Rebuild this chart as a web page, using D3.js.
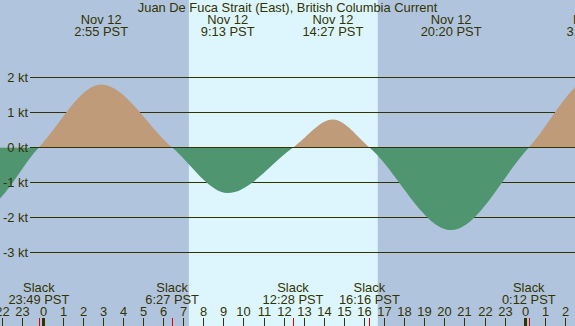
<!DOCTYPE html>
<html>
<head>
<meta charset="utf-8">
<script src="https://cdn.jsdelivr.net/npm/d3@7"></script>
<style>
  body { margin: 0; background: #fff; }
  text { font-family: "Liberation Sans", Arial, sans-serif; font-size: 12.9px; fill: #333300; }
</style>
</head>
<body>
<svg id="mainChart" width="575" height="326"></svg>
<script>
// current events (PST), speed in knots; slack = 0
const eventTimes = ['11-11 17:40', '11-11 21:00', '11-11 23:49', '11-12 02:55', '11-12 06:27', '11-12 09:13',
  '11-12 12:28', '11-12 14:27', '11-12 16:16', '11-12 20:20', '11-13 00:12', '11-13 03:25', '11-13 07:00'];
const eventSpeeds = [0, -1.75, 0, 1.8, 0, -1.3, 0, 0.8, 0, -2.36, 0, 2.0, 0];

const speedTicks = [-3, -2, -1, 0, 1, 2];
const daylight = ['11-12 07:17', '11-12 16:41'];
const viewRange = ['11-11 21:53', '11-13 02:30'];
const title = 'Juan De Fuca Strait (East), British Columbia Current';

const NIGHT = '#b0c4de';
const DAY = '#ddf6fe';
const FLOOD = '#bf9b7a';
const EBB = '#4f9570';
const INK = '#333300';

let parse = d3.utcParse('%m-%d %H:%M'),
    fmtTime = d3.utcFormat('%-H:%M'),
    fmtDay = d3.utcFormat('%b %-d');

let svg = d3.select('#mainChart'),
    width = +svg.attr('width'),
    height = +svg.attr('height');

let events = eventTimes.map((t, i) => ({ time: parse(t), speed: eventSpeeds[i] }));

let x = d3.scaleUtc()
  .domain(viewRange.map(parse))
  .range([0, width]);

let y = d3.scaleLinear()
  .domain([-3, 2])
  .range([252.5, 77.5]);

// night background + daylight band
svg.append('rect')
  .attr('width', width)
  .attr('height', height)
  .attr('fill', NIGHT);

svg.append('rect')
  .attr('x', x(parse(daylight[0])))
  .attr('width', x(parse(daylight[1])) - x(parse(daylight[0])))
  .attr('y', 0)
  .attr('height', height)
  .attr('fill', DAY);

// grid lines (under the current area)
svg.append('g')
  .selectAll('line')
  .data(speedTicks.filter(d => d !== 0))
  .enter()
  .append('line')
  .attr('x1', 30)
  .attr('x2', width)
  .attr('y1', d => y(d))
  .attr('y2', d => y(d))
  .attr('stroke', INK);

// current area, split at zero
let defs = svg.append('defs');

defs.append('clipPath')
  .attr('id', 'clip-flood')
  .append('rect')
  .attr('width', width)
  .attr('height', y(0));

defs.append('clipPath')
  .attr('id', 'clip-ebb')
  .append('rect')
  .attr('y', y(0))
  .attr('width', width)
  .attr('height', height - y(0));

let area = d3.area()
  .curve(d3.curveMonotoneX)
  .x(d => x(d.time))
  .y0(y(0))
  .y1(d => y(d.speed));

svg.append('path')
  .attr('d', area(events))
  .attr('fill', FLOOD)
  .attr('clip-path', 'url(#clip-flood)');

svg.append('path')
  .attr('d', area(events))
  .attr('fill', EBB)
  .attr('clip-path', 'url(#clip-ebb)');

svg.append('line')
  .attr('x1', 30)
  .attr('x2', width)
  .attr('y1', y(0))
  .attr('y2', y(0))
  .attr('stroke', INK);

svg.append('g')
  .selectAll('text')
  .data(speedTicks)
  .enter()
  .append('text')
  .attr('text-anchor', 'end')
  .attr('x', 28)
  .attr('y', d => y(d) + 4.5)
  .text(d => d + ' kt');

// title
svg.append('text')
  .attr('text-anchor', 'middle')
  .attr('x', width / 2)
  .attr('y', 12)
  .text(title);

let [t0, t1] = x.domain();
let shown = events.filter(d => d.time > t0 && +d.time - t1 < 3 * 3600e3);

// max flood / ebb labels on top
let maxLabel = svg.append('g')
  .selectAll('g')
  .data(shown.filter(d => d.speed !== 0))
  .enter()
  .append('g')
  .attr('transform', d => `translate(${x(d.time)}, 0)`);

maxLabel.append('text')
  .attr('text-anchor', 'middle')
  .attr('y', 24)
  .text(d => fmtDay(d.time));

maxLabel.append('text')
  .attr('text-anchor', 'middle')
  .attr('y', 36)
  .text(d => fmtTime(d.time) + ' PST');

// slack labels at the bottom
let slack = shown.filter(d => d.speed === 0 && d.time < t1);

let slackLabel = svg.append('g')
  .selectAll('g')
  .data(slack)
  .enter()
  .append('g')
  .attr('transform', d => `translate(${x(d.time)}, 0)`);

slackLabel.append('text')
  .attr('text-anchor', 'middle')
  .attr('y', 292)
  .text('Slack');

slackLabel.append('text')
  .attr('text-anchor', 'middle')
  .attr('y', 304)
  .text(d => fmtTime(d.time) + ' PST');

// hour axis
let hours = x.ticks(d3.utcHour.every(1));

let hour = svg.append('g')
  .selectAll('g')
  .data(hours)
  .enter()
  .append('g')
  .attr('transform', d => `translate(${Math.round(x(d)) + 0.5}, 0)`);

hour.append('text')
  .attr('text-anchor', 'middle')
  .attr('y', 316)
  .text(d => d.getUTCHours());

hour.append('line')
  .attr('y1', 318)
  .attr('y2', height)
  .attr('stroke', INK);

hour.filter(d => d.getUTCHours() === 0)
  .append('rect')
  .attr('x', -1.5)
  .attr('y', 318)
  .attr('width', 3)
  .attr('height', height - 318)
  .attr('fill', INK);

svg.append('g')
  .selectAll('line')
  .data(slack)
  .enter()
  .append('line')
  .attr('x1', d => Math.round(x(d.time)) + 0.5)
  .attr('x2', d => Math.round(x(d.time)) + 0.5)
  .attr('y1', 318)
  .attr('y2', height)
  .attr('stroke', '#e00000');
</script>
</body>
</html>
